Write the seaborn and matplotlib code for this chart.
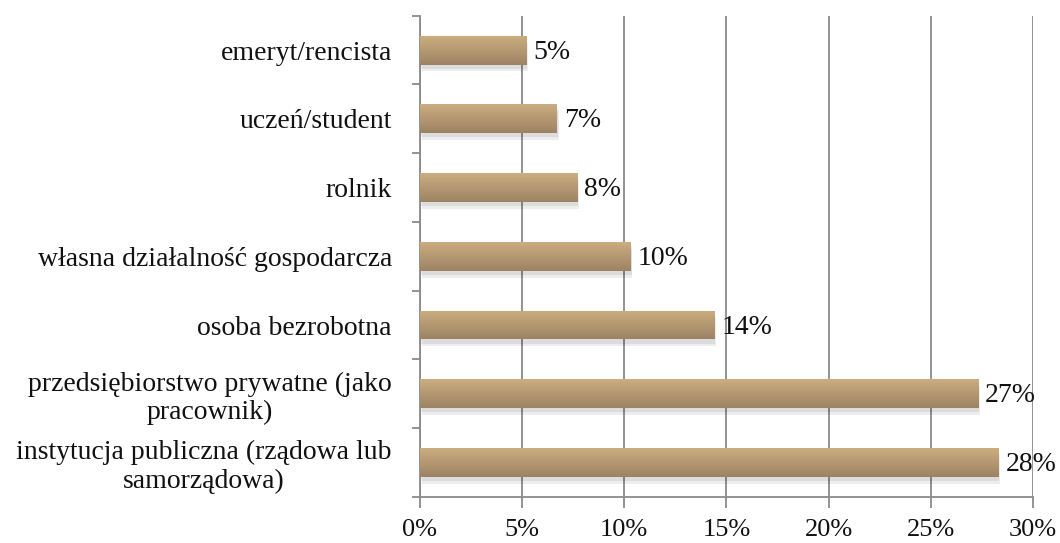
import numpy as np
import pandas as pd
import seaborn as sns
import matplotlib.pyplot as plt
from matplotlib.ticker import FixedLocator, PercentFormatter

categories = [
    "emeryt/rencista",
    "uczeń/student",
    "rolnik",
    "własna działalność gospodarcza",
    "osoba bezrobotna",
    "przedsiębiorstwo prywatne (jako\npracownik)",
    "instytucja publiczna (rządowa lub\nsamorządowa)",
]
shares = [5.2, 6.7, 7.7, 10.3, 14.4, 27.3, 28.3]

df = pd.DataFrame({"kategoria": categories, "udzial": shares})

sns.set_style("white")
plt.rcParams["font.family"] = ["Liberation Serif", "DejaVu Serif"]

fig = plt.figure(figsize=(10.6, 5.43), dpi=100)
ax = fig.add_axes([0.396, 0.085, 0.5785, 0.886])

sns.barplot(data=df, x="udzial", y="kategoria", orient="h",
            color="#b89c72", width=0.42, ax=ax, zorder=3)

# gradient fill + soft shadow on each bar
grad = np.linspace(0, 1, 64).reshape(-1, 1)
cmap = sns.blend_palette(["#cbad80", "#9c8363"], as_cmap=True)
for p in ax.patches:
    x0, y0 = p.get_x(), p.get_y()
    w, h = p.get_width(), p.get_height()
    for k, a in [(0.10, 0.07), (0.06, 0.07)]:
        shadow = plt.Rectangle((x0 + k, y0 + k), w, h, color="#000000",
                               alpha=a, lw=0, zorder=2)
        ax.add_patch(shadow)
    im = ax.imshow(grad, cmap=cmap, aspect="auto", zorder=4,
                   extent=(x0, x0 + w, y0 + h, y0))
    im.set_clip_path(p)
    p.set_edgecolor("none")

for p, v in zip(ax.patches[:len(shares)], shares):
    ax.text(p.get_width() + 0.35, p.get_y() + p.get_height() / 2 + 0.03,
            f"{v:.0f}%", va="center", ha="left", fontsize=20, color="#111111",
            zorder=5, clip_on=False)

ax.set_xlim(0, 30)
ax.set_ylim(len(categories) - 0.5, -0.5)
ax.xaxis.set_major_locator(FixedLocator([0, 5, 10, 15, 20, 25, 30]))
ax.xaxis.set_major_formatter(PercentFormatter(decimals=0))
ax.grid(axis="x", color="#8a8a8a", lw=1.3, zorder=0)
ax.set_axisbelow(True)

ax.set_xlabel("")
ax.set_ylabel("")
for side in ["top", "right"]:
    ax.spines[side].set_visible(False)
for side in ["left", "bottom"]:
    ax.spines[side].set_color("#8a8a8a")
    ax.spines[side].set_linewidth(1.3)

ax.tick_params(axis="x", direction="out", length=8, width=1.3,
               color="#8a8a8a", labelsize=19, pad=8, bottom=True)
ax.tick_params(axis="y", which="major", length=0, labelsize=20, pad=20)
ax.yaxis.set_minor_locator(FixedLocator(np.arange(-0.5, len(categories), 1)))
ax.tick_params(axis="y", which="minor", direction="out", length=6,
               width=1.3, color="#8a8a8a", left=True)
for lbl in ax.get_yticklabels():
    lbl.set_multialignment("center")
    lbl.set_color("#111111")
    lbl.set_linespacing(1.15)
for lbl in ax.get_xticklabels():
    lbl.set_color("#111111")

plt.savefig("out.png", dpi=100)
